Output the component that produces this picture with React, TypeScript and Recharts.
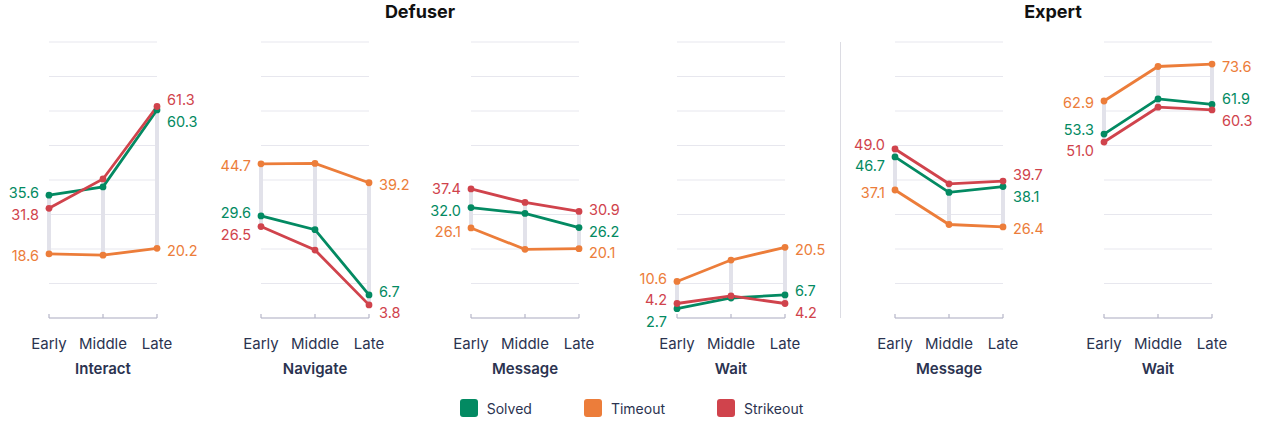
import React from "react";
import {
  LineChart,
  Line,
  XAxis,
  YAxis,
  CartesianGrid,
  ErrorBar,
  LabelList,
  Label,
} from "recharts";

const phases = ["Early", "Middle", "Late"];
const seriesNames = ["Solved", "Timeout", "Strikeout"];
const yTicks = [10, 20, 30, 40, 50, 60, 70, 80];

// Defuser
const interactSolved = [35.6, 38.0, 60.3];
const interactTimeout = [18.6, 18.2, 20.2];
const interactStrikeout = [31.8, 40.3, 61.3];

const navigateSolved = [29.6, 25.6, 6.7];
const navigateTimeout = [44.7, 44.8, 39.2];
const navigateStrikeout = [26.5, 19.7, 3.8];

const defMessageSolved = [32.0, 30.3, 26.2];
const defMessageTimeout = [26.1, 19.9, 20.1];
const defMessageStrikeout = [37.4, 33.5, 30.9];

const defWaitSolved = [2.7, 5.8, 6.7];
const defWaitTimeout = [10.6, 16.8, 20.5];
const defWaitStrikeout = [4.2, 6.4, 4.2];

// Expert
const expMessageSolved = [46.7, 36.4, 38.1];
const expMessageTimeout = [37.1, 27.1, 26.4];
const expMessageStrikeout = [49.0, 38.9, 39.7];

const expWaitSolved = [53.3, 63.5, 61.9];
const expWaitTimeout = [62.9, 72.9, 73.6];
const expWaitStrikeout = [51.0, 61.1, 60.3];

const panels = [
  { name: "Interact", values: [interactSolved, interactTimeout, interactStrikeout] },
  { name: "Navigate", values: [navigateSolved, navigateTimeout, navigateStrikeout] },
  { name: "Message", values: [defMessageSolved, defMessageTimeout, defMessageStrikeout] },
  { name: "Wait", values: [defWaitSolved, defWaitTimeout, defWaitStrikeout] },
  { name: "Message", values: [expMessageSolved, expMessageTimeout, expMessageStrikeout] },
  { name: "Wait", values: [expWaitSolved, expWaitTimeout, expWaitStrikeout] },
];

// layout / styling
const FONT = "Inter, 'Noto Sans', sans-serif";
const COLORS = ["#038a62", "#ec7d3a", "#d0434c"];
const INK = "#2b3350";
const GRID = "#e7e7ee";
const AXIS = "#b6b6c8";
const RANGE = "#e2e2ea";
const PANEL_LEFT = [-2, 210, 420, 626, 844, 1053];
const LABEL_GAP = 6.3; // min distance between end labels, in data units

// push overlapping labels apart (data units)
function spreadLabels(vals: number[], gap: number) {
  const order = vals.map((_, i) => i).sort((a, b) => vals[b] - vals[a]);
  const pos = vals.slice();
  for (let it = 0; it < 60; it++) {
    for (let k = 0; k < order.length - 1; k++) {
      const a = order[k];
      const b = order[k + 1];
      const d = pos[a] - pos[b];
      if (d < gap) {
        const s = (gap - d) / 2;
        pos[a] += s;
        pos[b] -= s;
      }
    }
  }
  return pos;
}

function buildRows(values: number[][]) {
  return phases.map((phase, i) => {
    const vs = values.map((arr) => arr[i]);
    const lo = Math.min(...vs);
    const hi = Math.max(...vs);
    const lab = i === 1 ? [null, null, null] : spreadLabels(vs, LABEL_GAP);
    const row: Record<string, any> = { phase, lo, span: [0, hi - lo] };
    vs.forEach((v, k) => {
      row[`s${k}`] = v;
      row[`l${k}`] = lab[k];
    });
    return row;
  });
}

const endLabel = (color: string, values: number[]) => (props: any) => {
  const { x, y, index } = props;
  if (index === 1 || y == null || isNaN(y)) return null;
  const left = index === 0;
  return (
    <text
      x={left ? x - 10 : x + 10}
      y={y}
      dy={2}
      textAnchor={left ? "end" : "start"}
      dominantBaseline="central"
      fill={color}
      fontSize={14.5}
      fontFamily={FONT}
    >
      {values[index].toFixed(1)}
    </text>
  );
};

function Panel({ name, values, left }: { name: string; values: number[][]; left: number }) {
  const data = buildRows(values);
  return (
    <div style={{ position: "absolute", left, top: 0 }}>
      <LineChart
        width={210}
        height={380}
        data={data}
        margin={{ top: 42, right: 51, bottom: 0, left: 51 }}
      >
        <CartesianGrid vertical={false} stroke={GRID} />
        <XAxis
          dataKey="phase"
          interval={0}
          tickSize={-4}
          tickMargin={24}
          height={62}
          axisLine={{ stroke: AXIS, strokeWidth: 1.2 }}
          tickLine={{ stroke: AXIS, strokeWidth: 1.2 }}
          tick={{ fontSize: 15, fill: INK, fontFamily: FONT }}
        >
          <Label
            value={name}
            position="insideBottom"
            offset={6}
            fill={INK}
            fontSize={15}
            fontWeight={600}
            fontFamily={FONT}
          />
        </XAxis>
        <YAxis hide domain={[0, 80]} ticks={yTicks} allowDataOverflow />
        <Line
          dataKey="lo"
          stroke="none"
          dot={false}
          activeDot={false}
          isAnimationActive={false}
        >
          <ErrorBar dataKey="span" width={0} strokeWidth={4} stroke={RANGE} direction="y" />
        </Line>
        {seriesNames.map((s, k) => (
          <Line
            key={s}
            name={s}
            dataKey={`s${k}`}
            stroke={COLORS[k]}
            strokeWidth={2.8}
            dot={{ r: 3.4, fill: COLORS[k], stroke: "none" }}
            activeDot={false}
            isAnimationActive={false}
          />
        ))}
        {seriesNames.map((s, k) => (
          <Line
            key={`lab-${s}`}
            dataKey={`l${k}`}
            stroke="none"
            dot={false}
            activeDot={false}
            isAnimationActive={false}
          >
            <LabelList dataKey={`l${k}`} content={endLabel(COLORS[k], values[k])} />
          </Line>
        ))}
      </LineChart>
    </div>
  );
}

export default function App() {
  return (
    <div
      style={{
        position: "absolute",
        left: 0,
        top: 0,
        width: 1263,
        height: 421,
        background: "#fff",
        fontFamily: FONT,
        overflow: "hidden",
      }}
    >
      <div
        style={{
          position: "absolute",
          left: 0,
          top: 1,
          width: 840,
          textAlign: "center",
          fontSize: 18,
          fontWeight: 700,
          color: "#111",
        }}
      >
        Defuser
      </div>
      <div
        style={{
          position: "absolute",
          left: 843,
          top: 1,
          width: 420,
          textAlign: "center",
          fontSize: 18,
          fontWeight: 700,
          color: "#111",
        }}
      >
        Expert
      </div>
      <div
        style={{
          position: "absolute",
          left: 840,
          top: 42,
          width: 1,
          height: 276,
          background: "#dcdce3",
        }}
      />
      {panels.map((p, i) => (
        <Panel key={i} name={p.name} values={p.values} left={PANEL_LEFT[i]} />
      ))}
      <div
        style={{
          position: "absolute",
          left: 0,
          top: 399,
          width: 1263,
          height: 18,
          display: "flex",
          justifyContent: "center",
          gap: 52,
        }}
      >
        {seriesNames.map((s, k) => (
          <div key={s} style={{ display: "flex", alignItems: "center" }}>
            <div
              style={{
                width: 18,
                height: 18,
                borderRadius: 3,
                background: COLORS[k],
                marginRight: 9,
              }}
            />
            <span style={{ fontSize: 14, color: INK }}>{s}</span>
          </div>
        ))}
      </div>
    </div>
  );
}
